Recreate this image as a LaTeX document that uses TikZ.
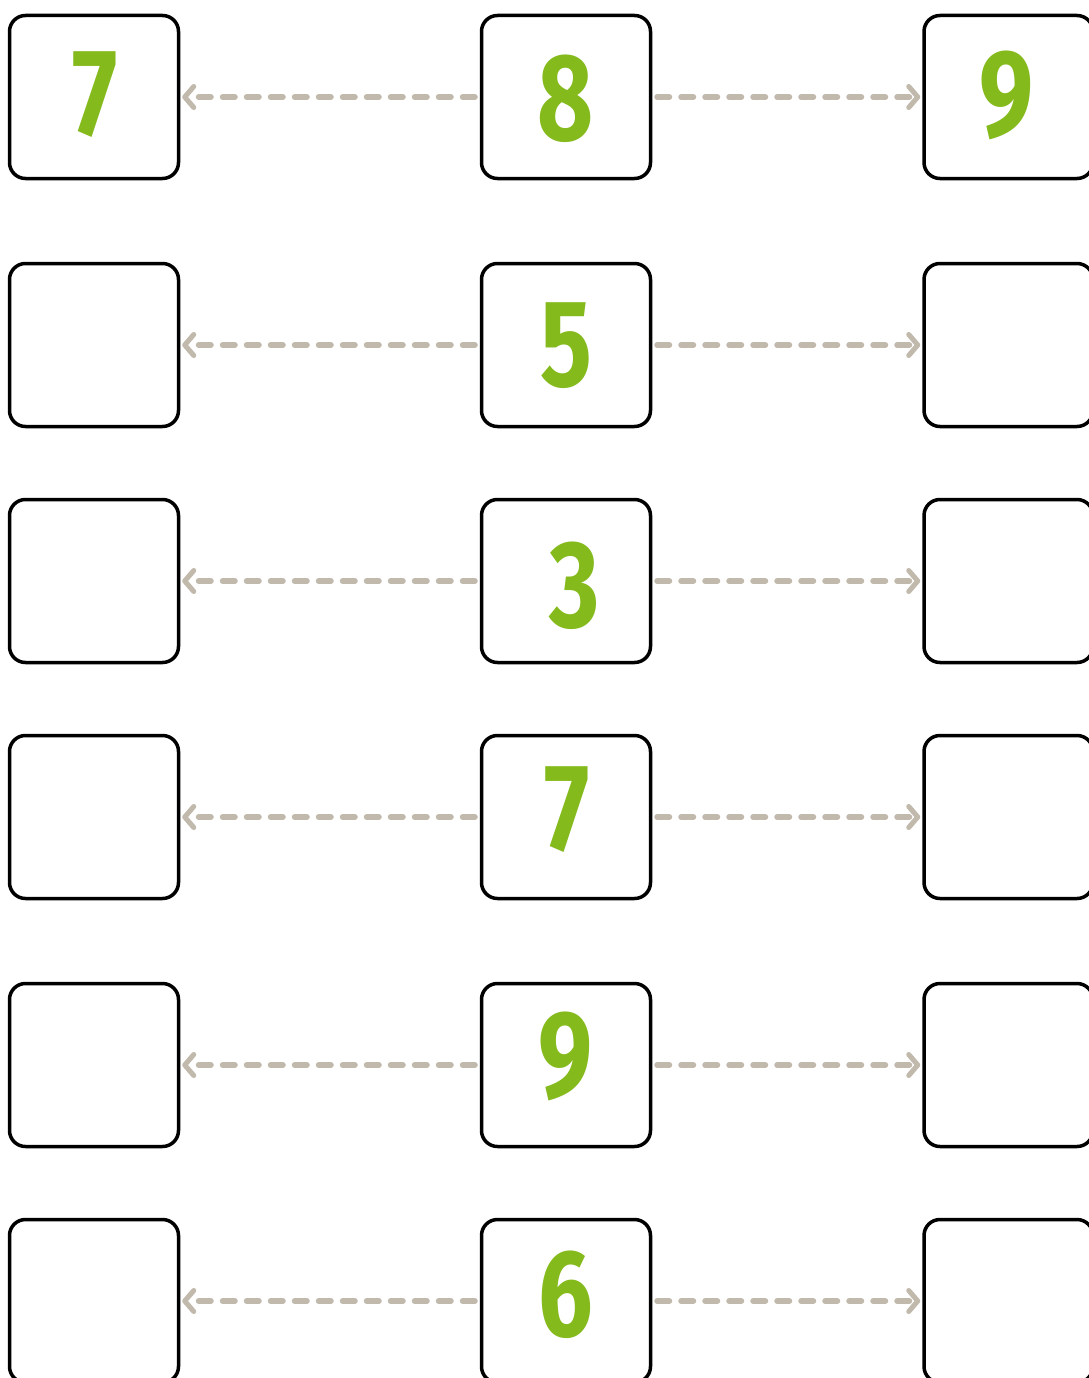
\documentclass[tikz,border=0pt]{standalone}
\usepackage{fontspec}
\setmainfont{Fira Sans}
\usetikzlibrary{arrows.meta}
\definecolor{digitgreen}{HTML}{84BA1C}
\definecolor{conngray}{HTML}{C0B9AC}
\tikzset{
  numbox/.style={draw=black, line width=3.5pt, rounded corners=16pt, fill=white,
    minimum width=169pt, minimum height=163pt, inner sep=0pt},
  conn/.style={draw=conngray, line width=6pt, line cap=round,
    dash pattern=on 12pt off 12pt,
    -{Straight Barb[length=9pt,width=21pt,line width=5pt,round]}},
  digit/.style={text=digitgreen, font=\fontsize{124}{124}\selectfont\bfseries}
}
\newcommand{\dg}[1]{\scalebox{0.78}[1]{#1}}
\begin{document}
\begin{tikzpicture}[x=1pt,y=-1pt]
\useasboundingbox (0,0) rectangle (1089,1378);
\fill[white] (0,0) rectangle (1089,1378);
% rows
\foreach \r/\y in {1/97,2/345,3/581,4/817,5/1065,6/1301}{
  \node[numbox] (l\r) at (94,\y) {};
  \node[numbox] (m\r) at (566,\y) {};
  \node[numbox] (r\r) at (1008.5,\y) {};
}
% connectors
\foreach \r in {1,...,6}{
  \draw[conn] ([xshift=-5pt]m\r.west) -- ([xshift=2pt]l\r.east);
  \draw[conn] ([xshift=5pt]m\r.east) -- ([xshift=-2pt]r\r.west);
}
% digits
\node[digit] (d1) at (95,95) {\dg{7}};
\node[digit] (d2) at (566,99) {\dg{8}};
\node[digit] (d3) at (1007,95) {\dg{9}};
\node[digit] (d4) at (566,346) {\dg{5}};
\node[digit] (d5) at (575,586) {\dg{3}};
\node[digit] (d6) at (567,810) {\dg{7}};
\node[digit] (d7) at (566,1056) {\dg{9}};
\node[digit] (d8) at (566,1295) {\dg{6}};
\end{tikzpicture}
\end{document}
